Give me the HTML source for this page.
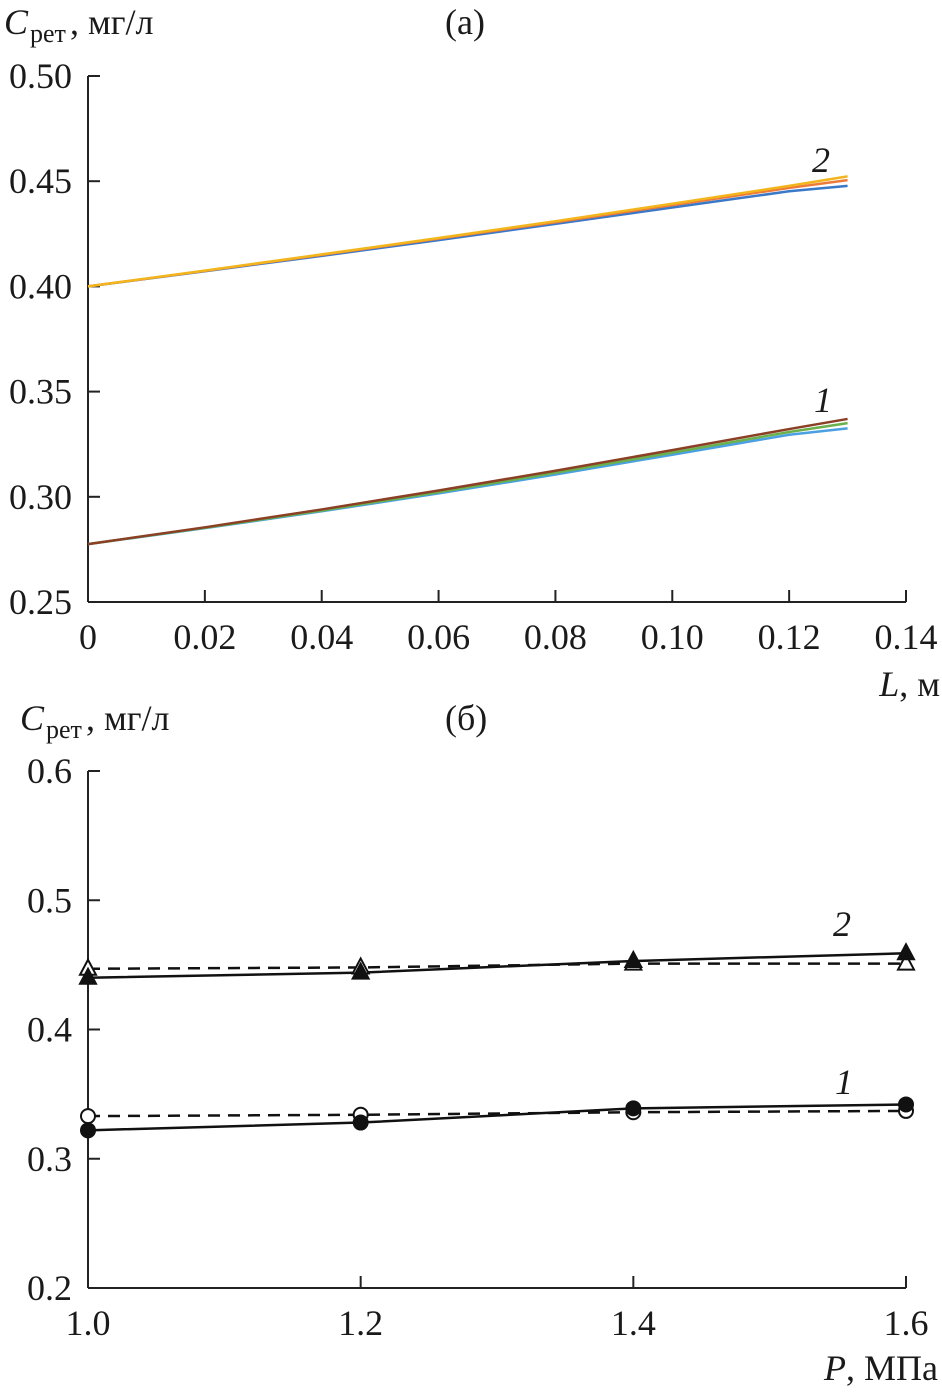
<!DOCTYPE html>
<html><head><meta charset="utf-8"><style>
body{margin:0;background:#fff}
svg text{font-family:"Liberation Serif",serif;fill:#1a1a1a}
</style></head><body>
<svg id="s" width="942" height="1395" xmlns="http://www.w3.org/2000/svg"></svg>
<script>
// Chart (a)
const aX = [0,0.02,0.04,0.06,0.08,0.10,0.12,0.13];
const a2yellow=[0.400,0.4075,0.4152,0.4230,0.4310,0.4393,0.4478,0.4523];
const a2orange=[0.400,0.4074,0.4150,0.4227,0.4305,0.4386,0.4468,0.4505];
const a2blue  =[0.400,0.4072,0.4145,0.4220,0.4297,0.4375,0.4452,0.4478];
const a1brown =[0.2775,0.2855,0.2940,0.3030,0.3124,0.3222,0.3322,0.3370];
const a1green =[0.2775,0.2853,0.2935,0.3022,0.3114,0.3210,0.3308,0.3350];
const a1blue  =[0.2775,0.2851,0.2931,0.3016,0.3106,0.3200,0.3295,0.3325];
const aXTicks=["0","0.02","0.04","0.06","0.08","0.10","0.12","0.14"];
const aYTicks=["0.25","0.30","0.35","0.40","0.45","0.50"];
// Chart (b)
const bX=[1.0,1.2,1.4,1.6];
const bTriSolid=[0.440,0.444,0.453,0.459];
const bTriHollow=[0.447,0.448,0.451,0.451];
const bCircSolid=[0.322,0.328,0.339,0.342];
const bCircHollow=[0.333,0.334,0.336,0.337];
const bXTicks=["1.0","1.2","1.4","1.6"];
const bYTicks=["0.2","0.3","0.4","0.5","0.6"];

const s=document.getElementById('s');
const NS="http://www.w3.org/2000/svg";
function el(t,a,name,txt){const e=document.createElementNS(NS,t);for(const k in a)e.setAttribute(k,a[k]);


if(txt!==undefined)e.textContent=txt;s.appendChild(e);return e;}

// axes a
const ax=v=>88+v/0.14*818, ay=v=>602-(v-0.25)/0.25*526;
el('line',{x1:88,y1:76,x2:88,y2:602,stroke:'#222','stroke-width':2},'a-y-axis');
el('line',{x1:88,y1:602,x2:906,y2:602,stroke:'#222','stroke-width':2},'a-x-axis');
aXTicks.forEach(t=>{const x=ax(+t);el('line',{x1:x,y1:602,x2:x,y2:590,stroke:'#222','stroke-width':2},'a-x-tick');
el('text',{x:x,y:649,'font-size':36,'text-anchor':'middle'},'a-x-tick-label',t);});
aYTicks.forEach(t=>{const y=ay(+t);el('line',{x1:88,y1:y,x2:100,y2:y,stroke:'#222','stroke-width':2},'a-y-tick');
el('text',{x:72,y:y+12,'font-size':36,'text-anchor':'end'},'a-y-tick-label',t);});
function line(xs,ys,fx,fy,c,name,w,dash){el('polyline',{points:xs.map((x,i)=>fx(x)+','+fy(ys[i])).join(' '),fill:'none',stroke:c,'stroke-width':w||2.5,'stroke-dasharray':dash||'none'},name);}
line(aX,a2blue,ax,ay,'#3a78c8','a-series-2-blue');
line(aX,a2orange,ax,ay,'#ee7a3a','a-series-2-orange');
line(aX,a2yellow,ax,ay,'#f2b51c','a-series-2-yellow');
line(aX,a1blue,ax,ay,'#4aa0e0','a-series-1-blue');
line(aX,a1green,ax,ay,'#6ab04c','a-series-1-green');
line(aX,a1brown,ax,ay,'#8b3f24','a-series-1-brown');
el('text',{x:812,y:172,'font-size':36,'font-style':'italic'},'a-label-2','2');
el('text',{x:814,y:412,'font-size':36,'font-style':'italic'},'a-label-1','1');
el('text',{x:4,y:34,'font-size':36,'font-style':'italic'},'a-y-title','C');
el('text',{x:30,y:42,'font-size':26},'a-y-title-sub','рет');
el('text',{x:70,y:34,'font-size':36},'a-y-title-unit',', мг/л');
el('text',{x:445,y:34,'font-size':36},'a-panel-label','(а)');
el('text',{x:940,y:696,'font-size':36,'text-anchor':'end'},'a-x-title','').innerHTML='<tspan font-style="italic">L</tspan>, м';

// axes b
const bx=v=>88+(v-1)/0.6*818, by=v=>1288-(v-0.2)/0.4*517;
el('line',{x1:88,y1:771,x2:88,y2:1288,stroke:'#222','stroke-width':2},'b-y-axis');
el('line',{x1:88,y1:1288,x2:906,y2:1288,stroke:'#222','stroke-width':2},'b-x-axis');
bXTicks.forEach(t=>{const x=bx(+t);el('line',{x1:x,y1:1288,x2:x,y2:1276,stroke:'#222','stroke-width':2},'b-x-tick');
el('text',{x:x,y:1335,'font-size':36,'text-anchor':'middle'},'b-x-tick-label',t);});
bYTicks.forEach(t=>{const y=by(+t);el('line',{x1:88,y1:y,x2:100,y2:y,stroke:'#222','stroke-width':2},'b-y-tick');
el('text',{x:72,y:y+12,'font-size':36,'text-anchor':'end'},'b-y-tick-label',t);});
line(bX,bTriHollow,bx,by,'#111','b-series-2-model',2.5,'12,8');
line(bX,bTriSolid,bx,by,'#111','b-series-2-exp',2.5);
line(bX,bCircHollow,bx,by,'#111','b-series-1-model',2.5,'12,8');
line(bX,bCircSolid,bx,by,'#111','b-series-1-exp',2.5);
function tri(x,y,fill,name){el('polygon',{points:`${x},${y-9} ${x-8},${y+6} ${x+8},${y+6}`,fill:fill,stroke:'#111','stroke-width':2},name);}
bX.forEach((v,i)=>{tri(bx(v),by(bTriHollow[i]),'#fff','b-marker-triangle-hollow');tri(bx(v),by(bTriSolid[i]),'#111','b-marker-triangle-solid');
el('circle',{cx:bx(v),cy:by(bCircHollow[i]),r:7,fill:'#fff',stroke:'#111','stroke-width':2},'b-marker-circle-hollow');
el('circle',{cx:bx(v),cy:by(bCircSolid[i]),r:7,fill:'#111',stroke:'#111','stroke-width':2},'b-marker-circle-solid');});
el('text',{x:833,y:936,'font-size':36,'font-style':'italic'},'b-label-2','2');
el('text',{x:835,y:1094,'font-size':36,'font-style':'italic'},'b-label-1','1');
el('text',{x:20,y:730,'font-size':36,'font-style':'italic'},'b-y-title','C');
el('text',{x:46,y:738,'font-size':26},'b-y-title-sub','рет');
el('text',{x:86,y:730,'font-size':36},'b-y-title-unit',', мг/л');
el('text',{x:445,y:730,'font-size':36},'b-panel-label','(б)');
el('text',{x:938,y:1380,'font-size':36,'text-anchor':'end'},'b-x-title','').innerHTML='<tspan font-style="italic">P</tspan>, МПа';
</script>
</body></html>
